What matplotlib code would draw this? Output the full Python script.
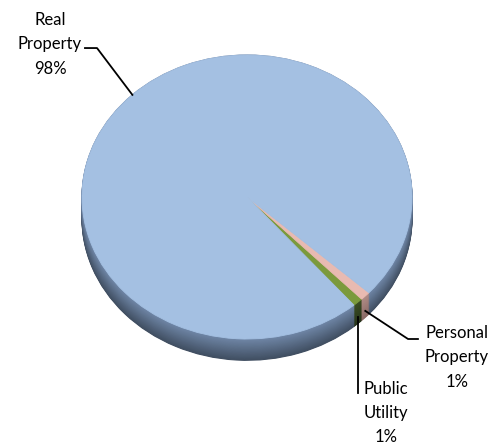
import matplotlib.pyplot as plt
import numpy as np
from matplotlib.colors import to_rgb

# Property tax base by category
categories = ['Public Utility', 'Personal Property', 'Real Property']
shares = [1, 1, 98]
label_text = ['Public\nUtility\n1%', 'Personal\nProperty\n1%', 'Real\nProperty\n98%']

top_colors = ['#7b9a3c', '#e8bab1', '#a4c0e2']
side_light = ['#3c4f22', '#b08c86', '#6f86a6']
side_dark = ['#26331a', '#8a6a66', '#404e61']

START = -49.6      # degrees, where the first wedge begins
DEPTH = 0.15       # thickness of the disc in pie units
N_LAYERS = 30

fig = plt.figure(figsize=(4.92, 4.44), dpi=100)
ax = fig.add_axes([0, 0, 1, 1])


def blend(c1, c2, t):
    a, b = np.array(to_rgb(c1)), np.array(to_rgb(c2))
    return tuple(a + (b - a) * t)


# side of the disc: stacked copies from the bottom up
for k in range(N_LAYERS - 1, -1, -1):
    t = k / (N_LAYERS - 1)
    cols = [blend(l, d, t) for l, d in zip(side_light, side_dark)]
    ax.pie(shares, colors=cols, startangle=START, center=(0, -DEPTH * t),
           wedgeprops=dict(linewidth=0.8, edgecolor='none'))
    for w, c in zip(ax.patches[-len(shares):], cols):
        w.set_edgecolor(c)

# top face
wedges, _ = ax.pie(shares, colors=top_colors, startangle=START,
                   wedgeprops=dict(linewidth=0.6))
for w, c in zip(wedges, top_colors):
    w.set_edgecolor(c)

# leader lines and labels
font = dict(family='Lato', fontsize=12, color='black', linespacing=1.62)
for i, w in enumerate(wedges):
    mid = np.deg2rad((w.theta1 + w.theta2) / 2)
    x0, y0 = np.cos(mid), np.sin(mid)
    if categories[i] == 'Real Property':
        ax.plot([x0, -0.909, -0.982], [y0, 1.049, 1.049], color='black', lw=1.3)
        ax.text(-1.194, 1.074, label_text[i], ha='center', va='center', **font)
    elif categories[i] == 'Personal Property':
        y0 -= DEPTH * 0.7
        ax.plot([x0, 0.976, 1.036], [y0, -1.0, -1.0], color='black', lw=1.3)
        ax.text(1.273, -1.13, label_text[i], ha='center', va='center', **font)
    else:
        y0 -= DEPTH * 0.7
        ax.plot([x0, x0], [y0, -1.38], color='black', lw=1.3)
        ax.text(0.842, -1.52, label_text[i], ha='center', va='center', **font)

ax.set_aspect('auto')
ax.set_xlim(-247 / 165, (492 - 247) / 165)
ax.set_ylim(-(444 - 197) / 142, 197 / 142)
ax.axis('off')

fig.savefig('out.png', dpi=100)
